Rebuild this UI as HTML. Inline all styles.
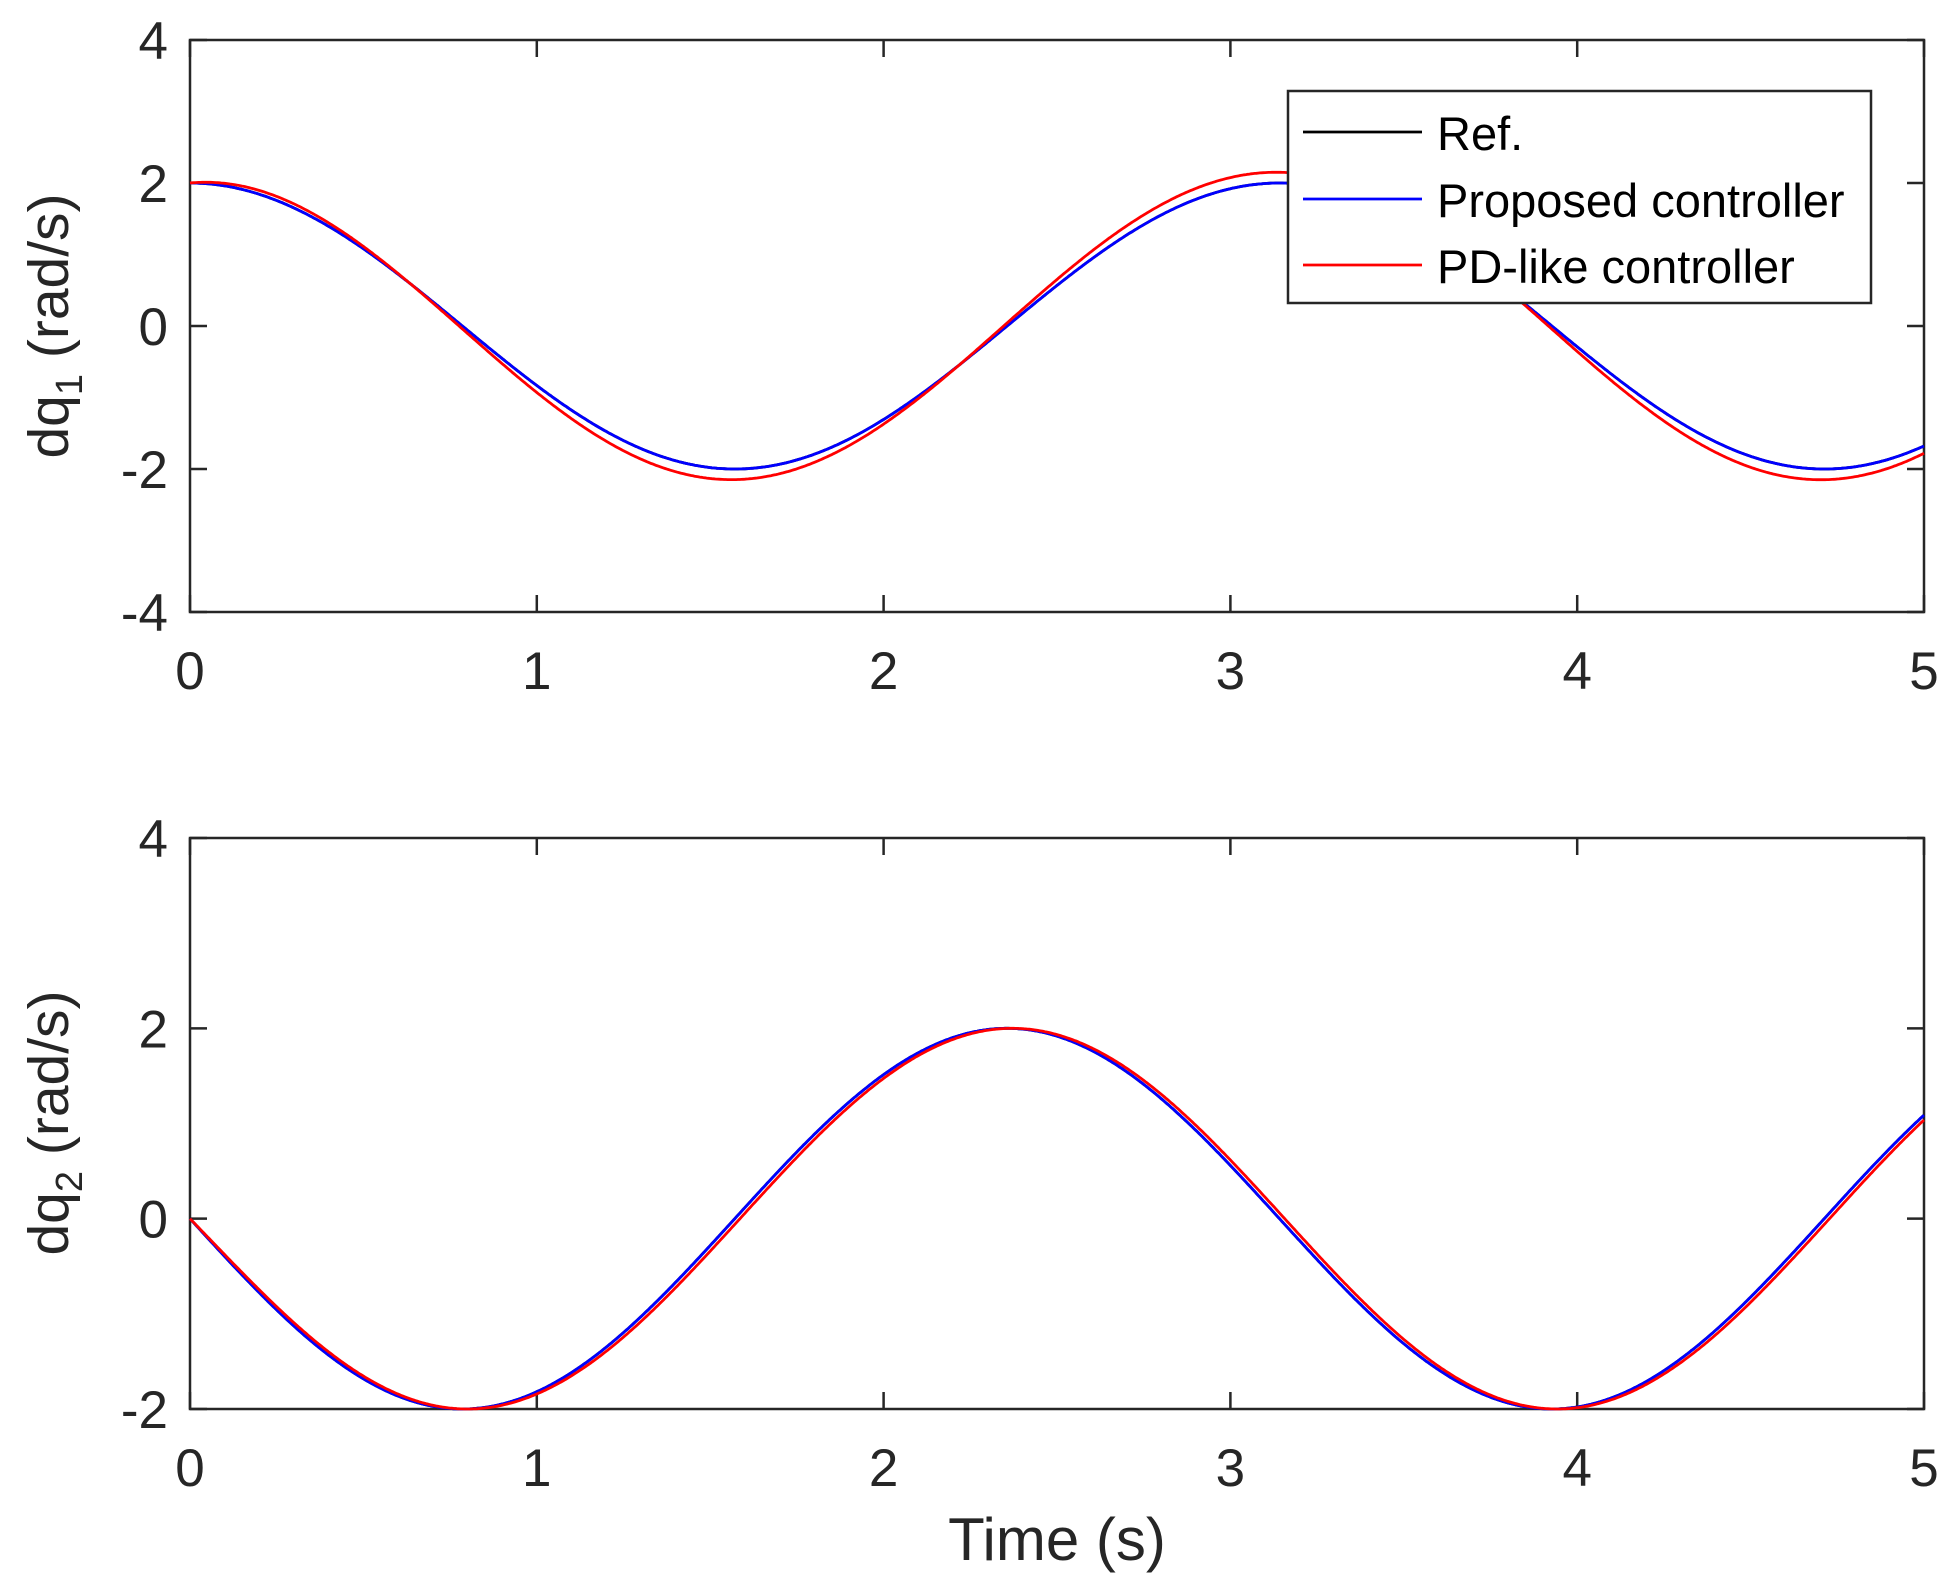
<!DOCTYPE html>
<html><head><meta charset="utf-8"><style>
html,body{margin:0;padding:0;background:#fff}
svg{display:block}
text{font-family:"Liberation Sans",Arial,sans-serif;fill:#262626}
</style></head><body>
<svg id="s" width="1956" height="1590" viewBox="0 0 1956 1590" xmlns="http://www.w3.org/2000/svg">
<rect width="1956" height="1590" fill="#fff"/>
<g id="g"></g>
</svg>
<script>
const g=document.getElementById('g');
let h='';
const X0=190,X1=1924;
function xs(t){return X0+(X1-X0)*t/5}
function axes(top,bot,ymin,ymax,ticks){
  const ys=v=>bot-(v-ymin)/(ymax-ymin)*(bot-top);
  h+=`<rect x="${X0}" y="${top}" width="${X1-X0}" height="${bot-top}" fill="none" stroke="#262626" stroke-width="2.5"/>`;
  for(let i=0;i<=5;i++){const x=xs(i);
    h+=`<line x1="${x}" y1="${bot}" x2="${x}" y2="${bot-17}" stroke="#262626" stroke-width="2.5"/><line x1="${x}" y1="${top}" x2="${x}" y2="${top+17}" stroke="#262626" stroke-width="2.5"/>`;
    h+=`<text x="${x}" y="${bot+77}" font-size="53" text-anchor="middle">${i}</text>`;}
  for(const v of ticks){const y=ys(v);
    h+=`<line x1="${X0}" y1="${y}" x2="${X0+17}" y2="${y}" stroke="#262626" stroke-width="2.5"/><line x1="${X1}" y1="${y}" x2="${X1-17}" y2="${y}" stroke="#262626" stroke-width="2.5"/>`;
    h+=`<text x="${X0-22}" y="${y+19}" font-size="53" text-anchor="end">${v}</text>`;}
  return ys;
}
function curve(f,ys,col){
  let p=[];for(let i=0;i<=1000;i++){const t=5*i/1000;p.push(xs(t).toFixed(1)+','+ys(f(t)).toFixed(1));}
  h+=`<polyline points="${p.join(' ')}" fill="none" stroke="${col}" stroke-width="2.8"/>`;
}
let ys1=axes(40,612,-4,4,[-4,-2,0,2,4]);
curve(t=>2*Math.cos(2*t),ys1,'#000');
curve(t=>2*Math.cos(2*t),ys1,'#0000ff');
curve(t=>{const a=2+0.15*(1-Math.exp(-3*t));return a*Math.cos(2*t+0.02*(1-Math.exp(-4*t)));},ys1,'#ff0000');
let ys2=axes(838,1409,-2,4,[-2,0,2,4]);
curve(t=>-2*Math.sin(2*t),ys2,'#000');
curve(t=>-2*Math.sin(2*t),ys2,'#0000ff');
curve(t=>-2*Math.sin(2*t-0.03*(1-Math.exp(-4*t))),ys2,'#ff0000');
// legend
h+=`<rect x="1288" y="91" width="583" height="212" fill="#fff" stroke="#262626" stroke-width="2.5"/>`;
const L=[['Ref.','#000',132],['Proposed controller','#0000ff',199],['PD-like controller','#ff0000',265]];
for(const [t,c,y] of L){h+=`<line x1="1303" y1="${y}" x2="1422" y2="${y}" stroke="${c}" stroke-width="2.8"/><text x="1437" y="${y+18}" font-size="47" style="fill:#000">${t}</text>`;}
// labels
h+=`<text transform="translate(68,326) rotate(-90)" font-size="57" text-anchor="middle">dq<tspan font-size="38" dy="14">1</tspan><tspan dy="-14"> (rad/s)</tspan></text>`;
h+=`<text transform="translate(68,1123) rotate(-90)" font-size="57" text-anchor="middle">dq<tspan font-size="38" dy="14">2</tspan><tspan dy="-14"> (rad/s)</tspan></text>`;
h+=`<text x="1057" y="1560" font-size="60" text-anchor="middle">Time (s)</text>`;
g.innerHTML=h;
</script>
</body></html>
